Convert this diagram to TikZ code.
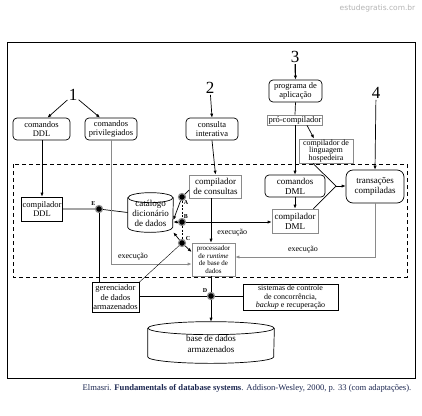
\documentclass[tikz,border=0pt]{standalone}
\usepackage{fontspec}
\setmainfont{Liberation Serif}
\newfontfamily\wmfont{DejaVu Sans}
\usepackage{tikz}
\usetikzlibrary{arrows.meta}
\definecolor{bgray}{HTML}{8a8a8a}
\definecolor{bnavy}{HTML}{1c2750}
\definecolor{bwater}{HTML}{b4b4b4}
\tikzstyle{block} = [rectangle, draw, align=center, inner sep=1pt, font=\fontsize{8.5}{9.5}\selectfont]
\tikzstyle{rblock} = [block, rounded corners=4pt]
\tikzstyle{gblock} = [block, draw=bgray]
\tikzstyle{arrow} = [draw, -{Latex[length=4pt,width=3.2pt]}]
\tikzstyle{junc} = [circle, fill=black, draw=bgray, line width=1.2pt, inner sep=0pt, minimum size=7pt]
\tikzstyle{lbl} = [font=\fontsize{6}{6}\selectfont\bfseries, inner sep=0.5pt]
\tikzstyle{num} = [font=\fontsize{17}{17}\selectfont, inner sep=1pt]
\tikzstyle{note} = [font=\fontsize{8}{8}\selectfont, inner sep=1pt]

\begin{document}
\begin{tikzpicture}[x=1pt, y=-1pt, line width=0.7pt]
\useasboundingbox (0,0) rectangle (422,415);

\node[bwater, font=\wmfont\fontsize{7.5}{8}\selectfont, anchor=east] (water) at (419, 8) {estudegratis.com.br};
\draw[line width=1pt] (7,42) rectangle (415,378);
\draw[dash pattern=on 4pt off 3pt] (13,164) rectangle (407,277);

%% users
\node[num] (one) at (73, 95) {1};
\node[num] (two) at (210, 88) {2};
\node[num] (three) at (295, 57) {3};
\node[num] (four) at (376, 93) {4};

\node[rblock, minimum width=57, minimum height=22] (ddl) at (41.5, 129) {comandos\\DDL};
\node[rblock, minimum width=52, minimum height=22] (priv) at (111, 129) {comandos\\privilegiados};
\node[rblock, minimum width=52, minimum height=22] (consulta) at (212, 129) {consulta\\interativa};
\node[rblock, minimum width=53, minimum height=22] (prog) at (295.5, 91) {programa de\\aplicação};
\node[gblock, minimum width=54, minimum height=10] (precomp) at (295, 120) {pró-compilador};
\node[gblock, minimum width=54, minimum height=22, font=\fontsize{8}{7.5}\selectfont] (hosp) at (326, 151) {compilador de\\linguagem\\hospedeira};

\path[arrow] (one) -- ([xshift=6]ddl.north);
\path[arrow] (one) -- ([xshift=-11]priv.north);
\path[arrow] (two) -- (consulta.north);
\path[arrow, line width=1.2pt] (three) -- (prog.north);
\draw (prog.south) -- (precomp.north);
\path[arrow] ([xshift=12]precomp.south) -- ([xshift=-12]hosp.north);

%% inside the dashed frame
\node[block, minimum width=40, minimum height=24] (ddlcomp) at (42, 209) {compilador\\DDL};
\node[minimum width=45, minimum height=39, align=center, inner sep=0pt, font=\fontsize{9}{10}\selectfont] (catalog) at (150.5, 212.5) {\\[-2pt]catálogo\\dicionário\\de dados};
\draw ([yshift=-5pt]catalog.north west) -- ([yshift=5pt]catalog.south west)
  arc[start angle=180, end angle=360, x radius=22.5pt, y radius=5pt] -- ([yshift=-5pt]catalog.north east);
\draw ([yshift=-5pt]catalog.north) ellipse [x radius=22.5pt, y radius=5pt];

\node[gblock, minimum width=52, minimum height=23, font=\fontsize{9}{10}\selectfont] (compcons) at (215.5, 186.5) {compilador\\de consultas};
\node[gblock, minimum width=43, minimum height=33, font=\fontsize{7}{7.6}\selectfont] (proc) at (213.5, 259.5) {processador\\de \textit{runtime}\\de base de\\dados};
\node[rblock, minimum width=60, minimum height=22, font=\fontsize{9}{10}\selectfont] (cdml) at (295, 186) {comandos\\DML};
\node[gblock, minimum width=46, minimum height=24, font=\fontsize{9}{10}\selectfont] (compdml) at (295, 221) {compilador\\DML};
\node[rblock, rounded corners=7pt, minimum width=58, minimum height=33, font=\fontsize{9}{10}\selectfont] (trans) at (375, 186.5) {transações\\compiladas};

\node[junc] (E) at (99, 209) {};
\node[junc] (A) at (182, 197) {};
\node[junc] (B) at (182, 222) {};
\node[junc] (C) at (182, 243) {};
\node[junc] (D) at (211, 296) {};
\node[lbl, above left] at (E.north west) {E};
\node[lbl, below right] at ([xshift=-2]A.south east) {A};
\node[lbl, above right] at ([xshift=-2]B.north east) {B};
\node[lbl, right] at ([yshift=2]C.north east) {C};
\node[lbl, above left] at (D.north west) {D};

%% storage
\node[block, minimum width=47, minimum height=30] (ger) at (115.5, 297.5) {gerenciador\\de dados\\armazenados};
\node[block, minimum width=95, minimum height=25, font=\fontsize{8}{8.5}\selectfont] (sist) at (290.5, 297.5) {sistemas de controle\\de concorrência,\\\textit{backup} e recuperação};
\node[minimum width=126, minimum height=41, align=center, inner sep=0pt, font=\fontsize{9}{11}\selectfont] (base) at (211, 342.5) {\\[-2pt]base de dados\\armazenados};
\draw ([yshift=-6.5pt]base.north west) -- ([yshift=6.5pt]base.south west)
  arc[start angle=180, end angle=360, x radius=63pt, y radius=6.5pt] -- ([yshift=-6.5pt]base.north east);
\draw ([yshift=-6.5pt]base.north) ellipse [x radius=63pt, y radius=6.5pt];

%% connections
\path[arrow] (ddl.south -| ddlcomp) -- (ddlcomp.north);
\draw (ddlcomp.east) -- (E) -- (catalog.west);
\draw (E) -- (E |- ger.north);
\path[arrow] (four) -- (trans.north);
\path[arrow] (precomp.south) -- (cdml.north);
\path[arrow] (cdml.south) -- (compdml.north);
\path[arrow] (consulta.south) -- (compcons.north);
\path[arrow] (compcons.south -| D) -- (proc.north -| D);
\node[note, anchor=west] at (216, 233) {execução};

\path[arrow, bgray] (priv.south) |- ([yshift=-4.5pt]proc.west);
\node[note, anchor=south] at (133, 262) {execução};
\path[arrow, bgray] (trans.south) |- ([yshift=2.5pt]proc.east);
\node[note, anchor=south] at (303, 255) {execução};

\draw[dash pattern=on 2pt off 1.5pt, line width=0.5pt] (A) -- (B) -- (C);
\path[arrow] (A) -- ([yshift=-7.5pt]catalog.east);
\draw (A) -- ([yshift=-3.5pt]compcons.west);
\path[arrow] (B) -- ([yshift=-9.5pt]catalog.east);
\path[arrow] (B) -- (B -| compdml.west);
\path[arrow] (C) -- (catalog.south east);
\path[arrow] (C) -- ([yshift=7.5pt]proc.west);
\draw[line width=0.4pt] (C) -- (ger.north east);

\coordinate (merge) at (336, 186);
\draw ([xshift=-13]hosp.south) -- (merge);
\draw ([xshift=-5]compdml.north east) -- (merge);
\path[arrow] (merge) -- (merge -| trans.west);

\draw (proc.south -| D) -- (D);
\draw (ger.east |- D) -- (D) -- (sist.west |- D);
\path[arrow] (D) -- (base.north);

%% source
\node[bnavy, anchor=east, font=\fontsize{8.6}{8.6}\selectfont] (source) at (415, 388) {Elmasri. \textbf{Fundamentals of database systems}. Addison-Wesley, 2000, p. 33 (com adaptações).};
\end{tikzpicture}
\end{document}
